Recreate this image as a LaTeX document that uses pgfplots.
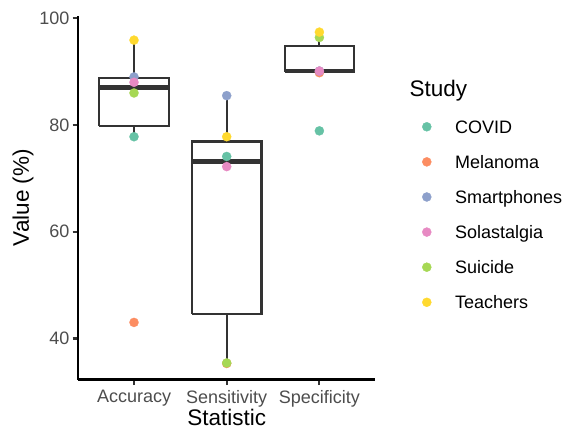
\documentclass[border=0pt]{standalone}
\usepackage{pgfplots}
\pgfplotsset{compat=1.18}
\usepackage{fontspec}
\setmainfont{Liberation Sans}

\definecolor{covid}{HTML}{66C2A5}
\definecolor{melanoma}{HTML}{FC8D62}
\definecolor{smart}{HTML}{8DA0CB}
\definecolor{sola}{HTML}{E78AC3}
\definecolor{suicide}{HTML}{A6D854}
\definecolor{teach}{HTML}{FFD92F}
\definecolor{boxline}{HTML}{333333}
\definecolor{ticktext}{HTML}{4D4D4D}

\newcommand{\ticksize}{\fontsize{18bp}{20bp}\selectfont}
\newcommand{\titlesize}{\fontsize{22.5bp}{25bp}\selectfont}

\pgfplotsset{
  study/.style={only marks, mark=*, color=#1, mark size=4.6bp,
    mark options={fill=#1, draw=#1, line width=0.2bp}},
  bx/.style={forget plot, draw=boxline, fill=white, line width=2.2bp, mark=none, line join=miter},
  wh/.style={forget plot, draw=boxline, line width=2.2bp, mark=none},
  med/.style={forget plot, draw=boxline, line width=4.4bp, mark=none},
}

\begin{document}
\begin{tikzpicture}
\begin{axis}[
  at={(0,0)}, anchor=south west,
  scale only axis,
  width=296.6bp, height=363.9bp,
  xmin=0.4, xmax=3.6,
  ymin=32.3, ymax=100.5,
  axis lines=left,
  axis line style={-, black, line width=2.2bp},
  xtick={1,2,3},
  xticklabels={Accuracy,Sensitivity,Specificity},
  ytick={40,60,80,100},
  tick align=outside,
  major tick length=5.7bp,
  tick style={boxline, line width=2.2bp},
  /pgf/number format/assume math mode=true,
  ticklabel style={font=\ticksize, text=ticktext},
  xticklabel style={anchor=north, inner sep=0pt, yshift=-5bp},
  yticklabel style={anchor=east, inner sep=0pt, xshift=-3bp},
  xlabel={Statistic},
  ylabel={Value (\%)},
  label style={font=\titlesize},
  xlabel style={at={(axis description cs:0.5,-0.104)}, anchor=center},
  ylabel style={at={(axis description cs:-0.1868,0.5)}, anchor=center},
  legend style={draw=none, fill=none, inner sep=0pt, outer sep=0pt,
    at={(axis description cs:1.1588,0.7126)}, anchor=north west,
    font=\ticksize, row sep=18.1bp, column sep=23.7bp,
    nodes={inner sep=0pt, text height=13bp, text depth=4bp, anchor=base west}},
  legend cell align=left,
  legend image code/.code={\fill (0bp,6.4bp) circle (4.5bp);},
  clip=false,
]
% Accuracy: whiskers 77.8 / 95.9, box 79.85 - 88.75, median 87.0
\addplot[wh] coordinates {(1,77.8) (1,79.85)};
\addplot[wh] coordinates {(1,88.75) (1,95.9)};
\addplot[bx] coordinates {(0.625,79.85) (1.375,79.85) (1.375,88.75) (0.625,88.75) (0.625,79.85)};
\addplot[med] coordinates {(0.625,87.0) (1.375,87.0)};
% Sensitivity: whiskers 35.3 / 85.5, box 44.6 - 76.9, median 73.15
\addplot[wh] coordinates {(2,35.3) (2,44.6)};
\addplot[wh] coordinates {(2,76.9) (2,85.5)};
\addplot[bx] coordinates {(1.625,44.6) (2.375,44.6) (2.375,76.9) (1.625,76.9) (1.625,44.6)};
\addplot[med] coordinates {(1.625,73.15) (2.375,73.15)};
% Specificity: upper whisker 97.4, box 90.0 - 94.8, median 90.1
\addplot[wh] coordinates {(3,94.8) (3,97.4)};
\addplot[bx] coordinates {(2.625,90.0) (3.375,90.0) (3.375,94.8) (2.625,94.8) (2.625,90.0)};
\addplot[med] coordinates {(2.625,90.1) (3.375,90.1)};

% study values (1 = Accuracy, 2 = Sensitivity, 3 = Specificity)
\addplot[study=covid]    coordinates {(1,77.8) (2,74.1) (3,78.9)};
\addplot[study=melanoma] coordinates {(1,43.0) (2,35.3) (3,89.8)};
\addplot[study=smart]    coordinates {(1,89.0) (2,85.5) (3,90.1)};
\addplot[study=sola]     coordinates {(1,88.0) (2,72.2) (3,90.1)};
\addplot[study=suicide]  coordinates {(1,86.0) (2,35.4) (3,96.4)};
\addplot[study=teach]    coordinates {(1,95.9) (2,77.8) (3,97.4)};
\legend{COVID,Melanoma,Smartphones,Solastalgia,Suicide,Teachers}

\node[anchor=base west, inner sep=0pt, font=\titlesize] at (axis description cs:1.1157,0.7789) {Study};
\end{axis}
\pgfresetboundingbox
\path[use as bounding box] (-78.4bp,-50.5bp) rectangle (487.6bp,379.5bp);
\end{tikzpicture}
\end{document}
